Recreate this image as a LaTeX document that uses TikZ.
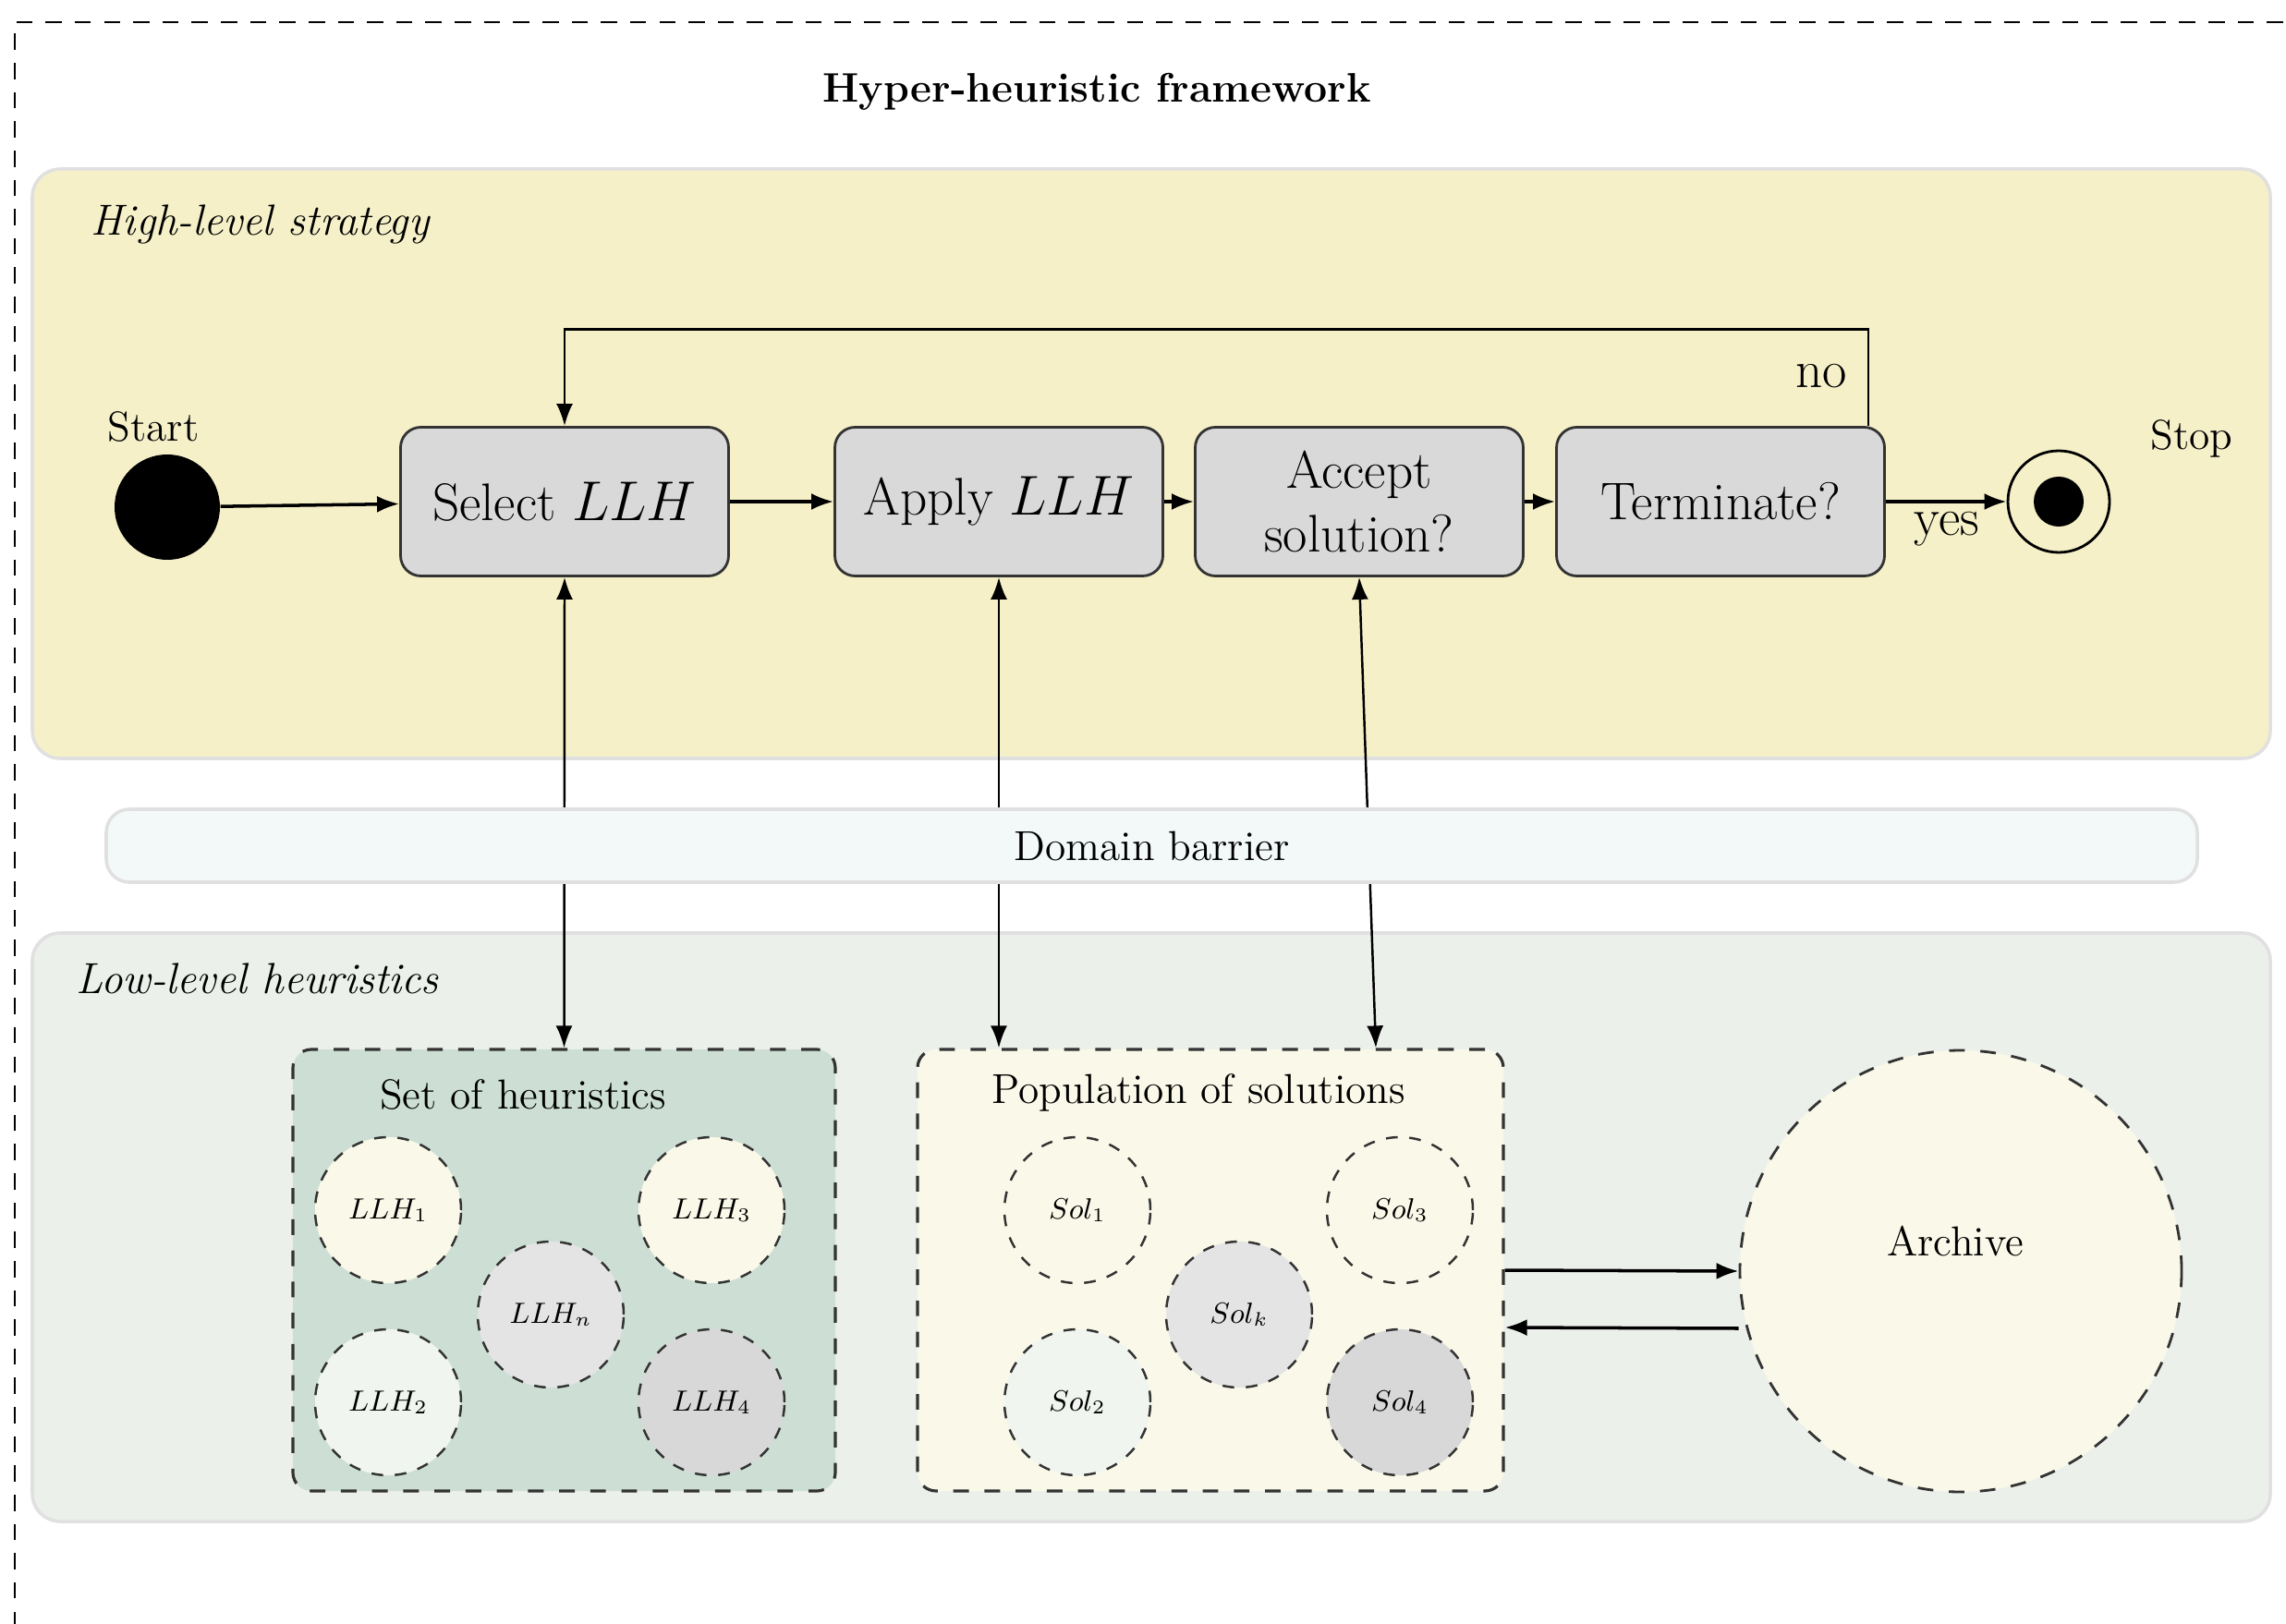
\documentclass[tikz,border=0pt]{standalone}
\usetikzlibrary{arrows.meta}
\definecolor{highbg}{RGB}{245,240,200}
\definecolor{lowbg}{RGB}{235,240,234}
\definecolor{barbg}{RGB}{243,248,248}
\definecolor{setbg}{RGB}{205,223,212}
\definecolor{popbg}{RGB}{250,249,233}
\definecolor{boxgray}{RGB}{217,217,217}
\definecolor{lightgray}{RGB}{228,228,228}
\definecolor{palegreen}{RGB}{240,245,240}
\definecolor{midgray}{RGB}{216,216,216}
\tikzset{
    act/.style = {draw=black!80, fill=boxgray, rounded corners=0.22cm, line width=0.8pt,
        minimum width=3.55cm, minimum height=1.61cm, align=center,
        font=\fontsize{16.3}{19.5}\selectfont},
    lbl/.style = {font=\fontsize{12.9}{15.5}\selectfont},
    tag/.style = {anchor=west, inner sep=0pt, font=\fontsize{13.4}{16}\selectfont\itshape},
    region/.style = {draw=black!12, line width=1pt, rounded corners=0.3cm},
    dashbox/.style = {draw=black!80, line width=0.9pt, dash pattern=on 4.8pt off 4.8pt,
        rounded corners=0.2cm, minimum height=4.78cm},
    blob/.style = {circle, draw=black!80, line width=0.7pt, dash pattern=on 3.6pt off 3.6pt,
        minimum size=1.58cm, inner sep=0pt, font=\small},
    arr/.style = {-{Latex[length=2.4mm,width=1.8mm]}, line width=1pt},
    dual/.style = {{Latex[length=2.4mm,width=1.8mm]}-{Latex[length=2.4mm,width=1.8mm]}, line width=0.7pt}
}
\begin{document}
\begin{tikzpicture}
    \useasboundingbox (0,0) rectangle (24.74,17.57);
    \begin{scope}
        \clip (0,0) rectangle (24.74,17.57);
        \draw [line width=0.8pt, dash pattern=on 5pt off 4pt] (0.16,-1) rectangle (25.5,17.33);
    \end{scope}
    \node [font=\fontsize{12.7}{15}\selectfont\bfseries] (title) at (11.87,16.58) {Hyper-heuristic framework};

    \draw [region, fill=highbg] (0.35,9.36) rectangle (24.57,15.74);
    \draw [region, fill=lowbg] (0.35,1.10) rectangle (24.57,7.47);
    \node [tag] (high) at (0.98,15.14) {High-level strategy};
    \node [tag] (low) at (0.82,6.98) {Low-level heuristics};

    \node [circle, fill=black, minimum size=1.14cm] (start) at (1.81,12.08) {};
    \node [lbl] (startlbl) at (1.66,12.95) {Start};
    \node [act] (sel) at (6.11,12.14) {Select $LLH$};
    \node [act] (app) at (10.81,12.14) {Apply $LLH$};
    \node [act] (acc) at (14.71,12.14) {Accept\\solution?};
    \node [act] (term) at (18.62,12.14) {Terminate?};
    \node [circle, draw, line width=0.8pt, minimum size=1.1cm] (stop) at (22.28,12.14) {};
    \fill (stop) circle (0.27);
    \node [lbl] (stoplbl) at (23.72,12.82) {Stop};

    \draw [arr] (start) -- (sel);
    \draw [arr] (sel) -- (app);
    \draw [arr] (app) -- (acc);
    \draw [arr] (acc) -- (term);
    \draw [arr] (term) -- (stop);
    \draw [arr, line width=0.8pt] ([xshift=-0.19cm]term.north east) -- ++(0,1.045) -| (sel.north);
    \node [font=\fontsize{16.3}{19.5}\selectfont] (no) at (19.71,13.50) {no};
    \node [font=\fontsize{16.3}{19.5}\selectfont] (yes) at (21.07,11.84) {yes};

    \node [dashbox, fill=setbg, minimum width=5.87cm] (heur) at (6.105,3.82) {};
    \node [dashbox, fill=popbg, minimum width=6.34cm] (pop) at (13.10,3.82) {};
    \node [lbl] (heurlbl) at (5.66,5.72) {Set of heuristics};
    \node [lbl] (poplbl) at (12.97,5.74) {Population of solutions};

    \node [blob, fill=popbg] (llh1) at (4.20,4.47) {$LLH_1$};
    \node [blob, fill=popbg] (llh3) at (7.70,4.47) {$LLH_3$};
    \node [blob, fill=lightgray] (llhn) at (5.96,3.34) {$LLH_n$};
    \node [blob, fill=palegreen] (llh2) at (4.20,2.39) {$LLH_2$};
    \node [blob, fill=midgray] (llh4) at (7.70,2.39) {$LLH_4$};

    \node [blob, fill=popbg] (sol1) at (11.66,4.47) {$Sol_1$};
    \node [blob, fill=popbg] (sol3) at (15.15,4.47) {$Sol_3$};
    \node [blob, fill=lightgray] (solk) at (13.41,3.34) {$Sol_k$};
    \node [blob, fill=palegreen] (sol2) at (11.66,2.39) {$Sol_2$};
    \node [blob, fill=midgray] (sol4) at (15.15,2.39) {$Sol_4$};

    \node [circle, draw=black!80, line width=0.8pt, dash pattern=on 4.8pt off 4.8pt,
        fill=popbg, minimum size=4.78cm] (arch) at (21.22,3.81) {};
    \node [lbl] (archlbl) at (21.16,4.13) {Archive};

    \draw [arr] (pop.east) -- (arch.west);
    \draw [arr] ([yshift=-0.62cm]arch.west) -- ([yshift=-0.62cm]pop.east);

    \draw [dual] (sel.south) -- (heur.north);
    \draw [dual] (app.south) -- (app.south |- pop.north);
    \draw [dual] (acc.south) -- ([xshift=0.18cm]acc.south |- pop.north);

    \node [draw=black!12, line width=1pt, fill=barbg, rounded corners=0.25cm,
        minimum width=22.63cm, minimum height=0.79cm, lbl] (barrier) at (12.465,8.415) {Domain barrier};
\end{tikzpicture}
\end{document}
